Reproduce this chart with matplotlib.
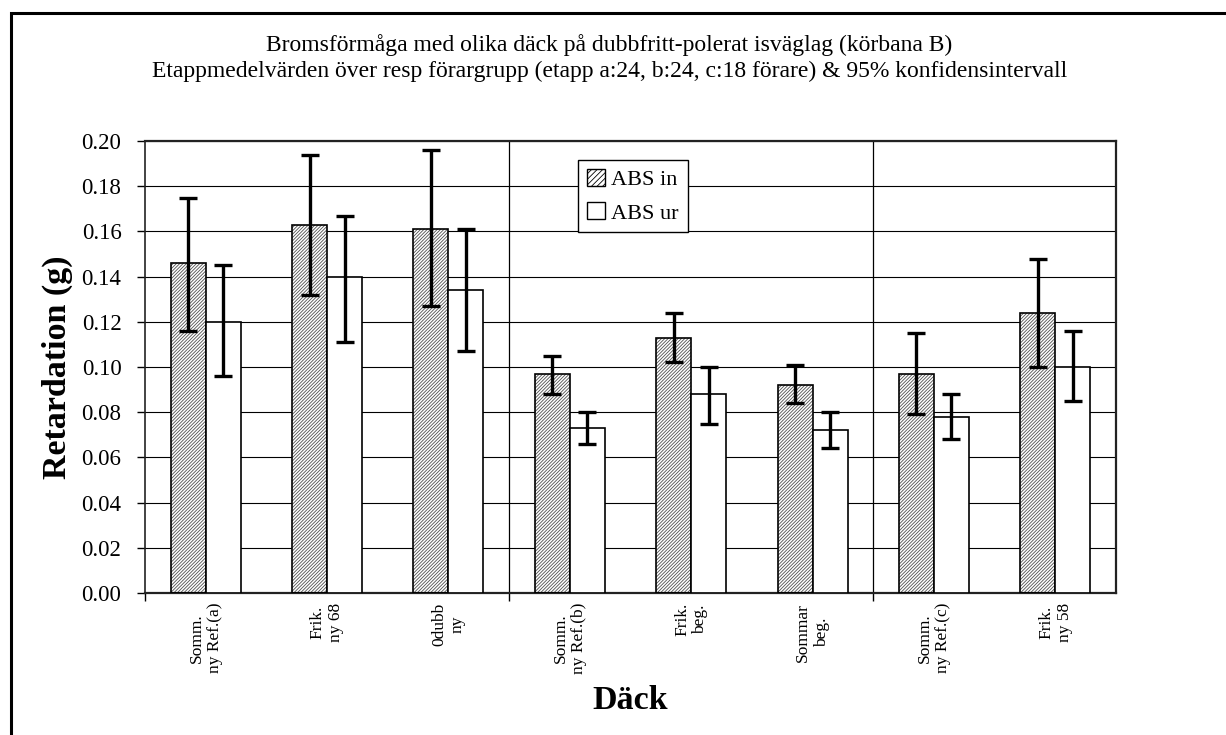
import matplotlib
matplotlib.use("Agg")
import matplotlib.pyplot as plt
import numpy as np
from matplotlib.patches import Rectangle, Patch

plt.rcParams['font.family'] = ['Liberation Serif', 'DejaVu Serif']
plt.rcParams['hatch.linewidth'] = 0.6

# retardation per tyre, ABS on / off, with 95% confidence limits
tyres = ["Somm.\nny Ref.(a)", "Frik.\nny 68", "0dubb\nny", "Somm.\nny Ref.(b)",
         "Frik.\nbeg.", "Sommar\nbeg.", "Somm.\nny Ref.(c)", "Frik.\nny 58"]
abs_in = [0.146, 0.163, 0.161, 0.097, 0.113, 0.092, 0.097, 0.124]
abs_in_lo = [0.116, 0.132, 0.127, 0.088, 0.102, 0.084, 0.079, 0.100]
abs_in_hi = [0.175, 0.194, 0.196, 0.105, 0.124, 0.101, 0.115, 0.148]
abs_ur = [0.120, 0.140, 0.134, 0.073, 0.088, 0.072, 0.078, 0.100]
abs_ur_lo = [0.096, 0.111, 0.107, 0.066, 0.075, 0.064, 0.068, 0.085]
abs_ur_hi = [0.145, 0.167, 0.161, 0.080, 0.100, 0.080, 0.088, 0.116]
# stage boundaries (a | b | c)
group_edges = [-0.5, 2.5, 5.5]

fig = plt.figure(figsize=(12.26, 7.35), dpi=100)
ax = fig.add_axes([145/1226, 1-593/735, (1116-145)/1226, (593-141)/735])

x = np.arange(len(tyres))
w = 0.288

# hatched bars: hatch drawn first in grey, black outline on top
ax.bar(x - w/2, abs_in, w, color='white', edgecolor='#505050', hatch='//////////', lw=0, zorder=2)
ax.bar(x - w/2, abs_in, w, fill=False, edgecolor='black', lw=1.2, zorder=3)
ax.bar(x + w/2, abs_ur, w, color='white', edgecolor='black', lw=1.2, zorder=3)

def draw_err(xs, vals, lo, hi):
    vals = np.array(vals)
    yerr = [vals - np.array(lo), np.array(hi) - vals]
    ax.errorbar(xs, vals, yerr=yerr, fmt='none', ecolor='black',
                elinewidth=2.4, capsize=6.5, capthick=2.4, zorder=4)

draw_err(x - w/2, abs_in, abs_in_lo, abs_in_hi)
draw_err(x + w/2, abs_ur, abs_ur_lo, abs_ur_hi)

ax.set_xlim(-0.5, len(tyres) - 0.5)
ax.set_ylim(0, 0.2)
yt = np.arange(0, 0.201, 0.02)
ax.set_yticks(yt)
ax.set_yticklabels([f"{v:.2f}" for v in yt], fontsize=16.5)
ax.yaxis.grid(True, color='black', lw=0.8, zorder=0)
ax.set_axisbelow(True)
for e in group_edges[1:]:
    ax.axvline(e, color='black', lw=0.9, zorder=1)

ax.set_xticks(group_edges)
ax.set_xticklabels([])
ax.set_xticks(x, minor=True)
ax.set_xticklabels(tyres, minor=True, rotation=90, fontsize=12.5,
                   va='top', ha='center', multialignment='center')
ax.tick_params(axis='x', which='major', length=6, width=1, direction='out')
ax.tick_params(axis='x', which='minor', length=0, pad=7)
ax.tick_params(axis='y', length=6, width=1, direction='out', pad=11)

for s in ax.spines.values():
    s.set_color('#222222')
    s.set_linewidth(1.6)
ax.spines['left'].set_linewidth(1.2)

ax.set_ylabel("Retardation (g)", fontsize=24.5, fontweight='bold', labelpad=6)
ax.set_xlabel("Däck", fontsize=24.5, fontweight='bold', labelpad=8)

fig.text(0.497, 0.921,
         "Bromsförmåga med olika däck på dubbfritt-polerat isväglag (körbana B)\n"
         "Etappmedelvärden över resp förargrupp (etapp a:24, b:24, c:18 förare) & 95% konfidensintervall",
         ha='center', va='center', fontsize=17, linespacing=1.3)

handles = [Patch(facecolor='white', edgecolor='black', hatch='//////', lw=1),
           Patch(facecolor='white', edgecolor='black', lw=1)]
leg = ax.legend(handles, ["ABS in", "ABS ur"], loc='upper left',
                bbox_to_anchor=(0.446, 0.958), fontsize=16, frameon=True,
                fancybox=False, edgecolor='black', framealpha=1,
                handlelength=0.8, handleheight=0.8, handletextpad=0.3,
                borderpad=0.4, labelspacing=0.55, borderaxespad=0)
leg.get_frame().set_linewidth(1.0)
leg.set_zorder(5)

# outer chart border (runs off the right and bottom edges)
fig.patches.append(Rectangle((11/1226, -0.1), 1.2, 1.1 - 13/735, transform=fig.transFigure,
                             fill=False, edgecolor='black', lw=2.2))

fig.savefig("out.png", dpi=100)
